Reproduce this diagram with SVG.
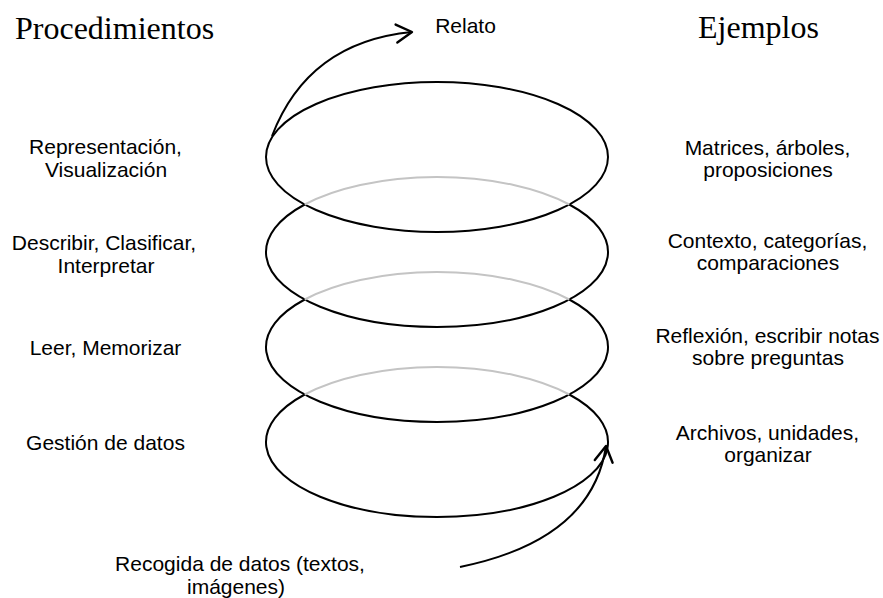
<svg xmlns="http://www.w3.org/2000/svg" width="883" height="598" viewBox="0 0 883 598">
<style>
.h{font-family:"Liberation Serif","Times New Roman",serif;font-size:32px;fill:#000}
.t{font-family:"Liberation Sans",Arial,sans-serif;font-size:21px;fill:#000;text-anchor:middle}
.e{fill:none;stroke:#000;stroke-width:2}
.g{fill:none;stroke:#c4c4c4;stroke-width:2}
.c{fill:none;stroke:#000;stroke-width:2}
</style>
<defs>
<marker id="arr" markerUnits="userSpaceOnUse" markerWidth="24" markerHeight="24" viewBox="-16 -10 20 20" refX="0" refY="0" orient="auto" overflow="visible">
<path d="M -13 -7.5 L 0 0 L -13 7.5" fill="none" stroke="#000" stroke-width="2" stroke-linecap="round" stroke-linejoin="round"/>
</marker>
</defs>
<rect width="883" height="598" fill="#fff"/>
<g id="headers">
<text class="h" x="15" y="39">Procedimientos</text>
<text class="h" x="698" y="38">Ejemplos</text>
</g>
<g id="level1">
<ellipse class="e" cx="437" cy="157" rx="171" ry="75"/>
</g>
<g id="level2">
<path class="e" d="M 569.3 204.5 A 171 75 0 1 1 304.7 204.5"/>
<path class="g" d="M 304.7 204.5 A 171 75 0 0 1 569.3 204.5"/>
</g>
<g id="level3">
<path class="e" d="M 569.3 299.5 A 171 75 0 1 1 304.7 299.5"/>
<path class="g" d="M 304.7 299.5 A 171 75 0 0 1 569.3 299.5"/>
</g>
<g id="level4">
<path class="e" d="M 569.3 394.5 A 171 75 0 1 1 304.7 394.5"/>
<path class="g" d="M 304.7 394.5 A 171 75 0 0 1 569.3 394.5"/>
</g>
<g id="connectors">
<path class="c" d="M 272 136 Q 308 42 412 32" marker-end="url(#arr)"/>
<path class="c" d="M 460 567 Q 592 540 606 446" marker-end="url(#arr)"/>
</g>
<g id="label-relato"><text class="t" x="465.5" y="33">Relato</text></g>
<g id="proc1"><text class="t" x="105.5" y="154">Representación,</text><text class="t" x="106" y="177">Visualización</text></g>
<g id="proc2"><text class="t" x="104" y="250">Describir, Clasificar,</text><text class="t" x="106" y="273">Interpretar</text></g>
<g id="proc3"><text class="t" x="105.5" y="355">Leer, Memorizar</text></g>
<g id="proc4"><text class="t" x="105.5" y="450">Gestión de datos</text></g>
<g id="ej1"><text class="t" x="767.5" y="155">Matrices, árboles,</text><text class="t" x="768" y="177">proposiciones</text></g>
<g id="ej2"><text class="t" x="767.5" y="248">Contexto, categorías,</text><text class="t" x="768" y="270">comparaciones</text></g>
<g id="ej3"><text class="t" x="767.5" y="343">Reflexión, escribir notas</text><text class="t" x="768" y="365">sobre preguntas</text></g>
<g id="ej4"><text class="t" x="767.5" y="440">Archivos, unidades,</text><text class="t" x="768" y="462">organizar</text></g>
<g id="input"><text class="t" x="240" y="571">Recogida de datos (textos,</text><text class="t" x="236" y="594">imágenes)</text></g>
</svg>
